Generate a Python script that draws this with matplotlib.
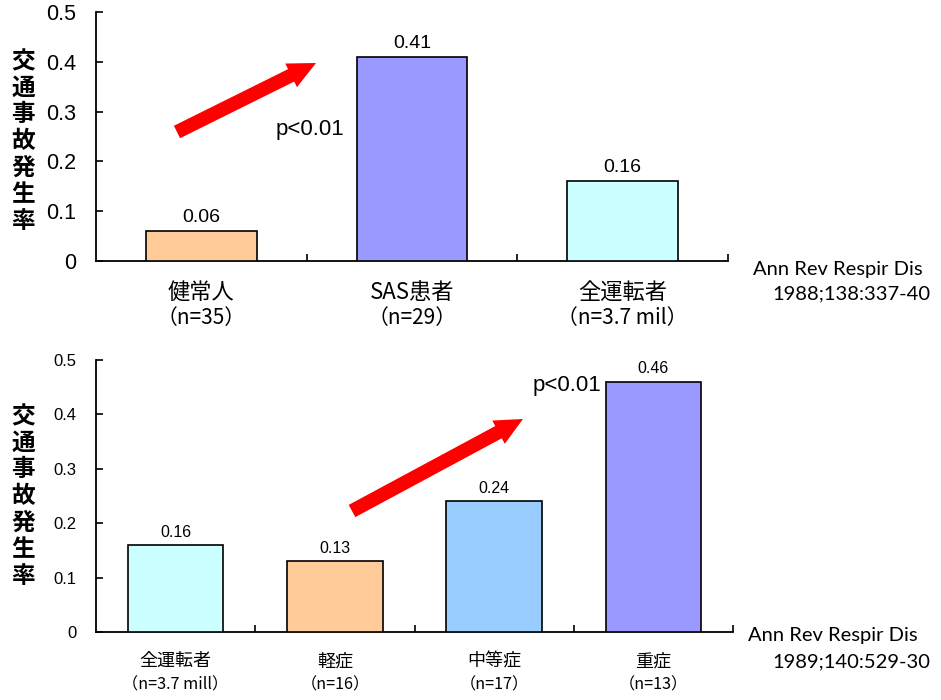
import matplotlib
matplotlib.use("Agg")
import matplotlib.pyplot as plt
from matplotlib.transforms import blended_transform_factory

plt.rcParams['font.family'] = ['Noto Sans CJK JP', 'DejaVu Sans']

# ---- data ----
top_categories = ["健常人", "SAS患者", "全運転者"]
top_n_labels = ["（n=35）", "（n=29）", "（n=3.7 mil）"]
top_values = [0.06, 0.41, 0.16]
top_colors = ["#FFCC99", "#9999FF", "#CCFFFF"]

bot_categories = ["全運転者", "軽症", "中等症", "重症"]
bot_n_labels = ["（n=3.7 mill）", "（n=16）", "（n=17）", "（n=13）"]
bot_values = [0.16, 0.13, 0.24, 0.46]
bot_colors = ["#CCFFFF", "#FFCC99", "#99CCFF", "#9999FF"]

yticks = [0, 0.1, 0.2, 0.3, 0.4, 0.5]
ytick_labels = ["0", "0.1", "0.2", "0.3", "0.4", "0.5"]
ylabel_text = "交通事故発生率"
ref_top = ["Ann Rev Respir Dis", "1988;138:337-40"]
ref_bot = ["Ann Rev Respir Dis", "1989;140:529-30"]
ptext = "p<0.01"

W, H = 941, 700
fig = plt.figure(figsize=(W / 100, H / 100), dpi=100)


def setup(ax, cats, nlabs, vals, cols, width, tick_fs, val_fs, cat_fs, n_fs, cat_y, n_y, pad):
    x = list(range(len(cats)))
    ax.bar(x, vals, width=width, color=cols, edgecolor="black", linewidth=1.2, zorder=3)
    ax.set_xlim(-0.5, len(cats) - 0.5)
    ax.set_ylim(0, 0.5)
    for s in ["top", "right"]:
        ax.spines[s].set_visible(False)
    for s in ["left", "bottom"]:
        ax.spines[s].set_linewidth(1.3)
    ax.set_yticks(yticks)
    ax.set_yticklabels(ytick_labels, fontsize=tick_fs, family=['Liberation Sans'])
    ax.tick_params(axis="y", direction="in", length=5, width=1.2, pad=pad)
    ax.set_xticks([i + 0.5 for i in x])
    ax.set_xticklabels([])
    ax.tick_params(axis="x", direction="in", length=5, width=1.2)
    for xi, v in zip(x, vals):
        ax.text(xi, v + 0.01, f"{v:.2f}", ha="center", va="bottom", fontsize=val_fs,
                family=['Liberation Sans'])
    tr = blended_transform_factory(ax.transData, ax.transAxes)
    for xi, c, n in zip(x, cats, nlabs):
        ax.text(xi, cat_y, c, ha="center", va="center", fontsize=cat_fs, transform=tr)
        ax.text(xi, n_y, n, ha="center", va="center", fontsize=n_fs, transform=tr)


ax1 = fig.add_axes([96 / W, 1 - 261 / H, (728 - 96) / W, (261 - 12) / H])
setup(ax1, top_categories, top_n_labels, top_values, top_colors, 0.525,
      15.5, 14, 16, 15, -0.125, -0.228, 14)

ax2 = fig.add_axes([96 / W, 1 - 632 / H, (733 - 96) / W, (632 - 360) / H])
setup(ax2, bot_categories, bot_n_labels, bot_values, bot_colors, 0.6,
      12, 11.5, 13, 11.7, -0.107, -0.195, 14)

# y labels (stacked characters)
for yc in [141, 496]:
    fig.text(23 / W, 1 - yc / H, "\n".join(ylabel_text), ha="center", va="center",
             fontsize=17, fontweight="bold", linespacing=1.14)

# references
fig.text(753 / W, 1 - 270 / H, ref_top[0], ha="left", va="center", fontsize=14.5, family=['Lato'])
fig.text(772 / W, 1 - 294 / H, ref_top[1], ha="left", va="center", fontsize=14.5, family=['Lato'])
fig.text(748 / W, 1 - 636 / H, ref_bot[0], ha="left", va="center", fontsize=14.5, family=['Lato'])
fig.text(772 / W, 1 - 662 / H, ref_bot[1], ha="left", va="center", fontsize=14.5, family=['Lato'])

# p-values
fig.text(276 / W, 1 - 130 / H, ptext, ha="left", va="center", fontsize=16, family=['Liberation Sans'])
fig.text(533 / W, 1 - 386 / H, ptext, ha="left", va="center", fontsize=16, family=['Liberation Sans'])

# arrows (figure pixel coordinates)
astyle = "simple,head_width=0.95,head_length=1.0,tail_width=0.5"
fig.add_artist(matplotlib.patches.FancyArrowPatch(
    posA=(177, H - 132), posB=(316, H - 63), transform=None,
    arrowstyle=astyle, mutation_scale=20, color="#FF0000", lw=0, shrinkA=0, shrinkB=0))
fig.add_artist(matplotlib.patches.FancyArrowPatch(
    posA=(352, H - 511), posB=(523, H - 419), transform=None,
    arrowstyle=astyle, mutation_scale=20, color="#FF0000", lw=0, shrinkA=0, shrinkB=0))

fig.savefig("out.png", dpi=100, facecolor="white")
